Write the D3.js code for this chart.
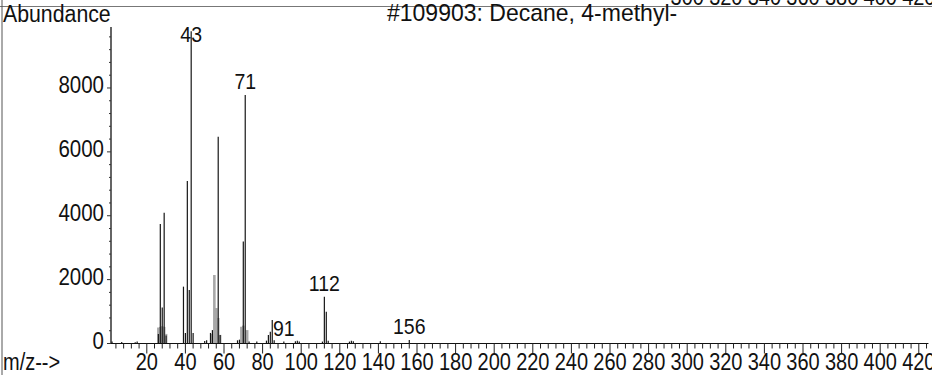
<!DOCTYPE html>
<html><head><meta charset="utf-8">
<script src="https://cdn.jsdelivr.net/npm/d3@7"></script>
<style>
html,body{margin:0;padding:0;background:#fff;}
svg{display:block;font-family:"Liberation Sans",Arial,sans-serif;}
</style></head>
<body>
<script>
// ---- data ----
const title = "#109903: Decane, 4-methyl-";
const yTitle = "Abundance";
const xTitle = "m/z-->";
// main (dark) spectrum lines
const mz        = [2, 7, 14, 15, 26, 27, 28, 29, 30, 39, 40, 41, 42, 43, 44, 50, 51, 53, 54, 57, 58, 67, 68, 70, 71, 73, 77, 82, 83, 84, 85, 86, 91, 97, 98, 99, 111, 112, 113, 114, 125, 126, 127, 141, 156];
const abundance = [60, 50, 40, 60, 300, 3740, 1130, 4090, 250, 1780, 330, 5090, 1675, 9780, 330, 80, 100, 330, 420, 6475, 265, 100, 120, 3190, 7780, 60, 60, 90, 265, 370, 735, 100, 60, 70, 90, 60, 60, 1465, 995, 90, 60, 90, 70, 70, 110];
// lighter (grey) shaded lines
const greyMz    = [26, 27, 28, 29, 30, 54, 55, 56, 57, 58, 69, 70, 72];
const greyVal   = [500, 520, 540, 520, 300, 300, 2145, 1110, 800, 270, 525, 560, 420];
// labelled peaks
const peakLabels = [43, 71, 91, 112, 156];
// axis ticks
const yTicks = [0, 2000, 4000, 6000, 8000];
const xTicks = [20, 40, 60, 80, 100, 120, 140, 160, 180, 200, 220, 240, 260, 280, 300, 320, 340, 360, 380, 400, 420];
const topFragmentTicks = [300, 320, 340, 360, 380, 400, 420];

// ---- layout ----
const W = 932, H = 375, SY = 1.15;
const svg = d3.select("body").append("svg").attr("width", W).attr("height", H);

const x = d3.scaleLinear().domain([0, 425]).range([108.2, 928.45]);
const y = d3.scaleLinear().domain([0, 10000]).range([343.5, 24.1]);
const axisX0 = 111, yAxisTop = 27;

function txt(g, sel) {
  return sel.attr("transform", d => `translate(${g.x(d)},${g.y(d)}) scale(1,${SY})`);
}

// frame remnants
svg.append("line").attr("x1", 0).attr("x2", W).attr("y1", 6.5).attr("y2", 6.5)
  .attr("stroke", "#777").attr("stroke-width", 1.2);
svg.append("line").attr("x1", 2).attr("x2", 2).attr("y1", 0).attr("y2", H)
  .attr("stroke", "#555").attr("stroke-width", 1);

// cut-off axis labels of previous panel at top
txt({x: d => x(d), y: () => 4.5},
  svg.append("g").selectAll("text").data(topFragmentTicks).join("text"))
  .attr("text-anchor", "middle").attr("font-size", 20).attr("fill", "#111").text(d => d);

// grey shaded lines
svg.append("g").selectAll("line").data(greyMz.map((m, i) => ({m, v: greyVal[i]}))).join("line")
  .attr("x1", d => x(d.m)).attr("x2", d => x(d.m))
  .attr("y1", y(0)).attr("y2", d => y(d.v))
  .attr("stroke", "#a8a8a8").attr("stroke-width", 2.6);

// main lines
svg.append("g").selectAll("line").data(mz.map((m, i) => ({m, v: abundance[i]}))).join("line")
  .attr("x1", d => x(d.m)).attr("x2", d => x(d.m))
  .attr("y1", y(0)).attr("y2", d => y(d.v))
  .attr("stroke", "#161616").attr("stroke-width", 1.2);

// y axis
svg.append("line").attr("x1", axisX0).attr("x2", axisX0).attr("y1", yAxisTop).attr("y2", y(0))
  .attr("stroke", "#111").attr("stroke-width", 1.3);
const yMinor = d3.range(0, 10000, 400);
svg.append("g").selectAll("line").data(yMinor).join("line")
  .attr("x1", d => yTicks.includes(d) ? axisX0 - 4 : axisX0 - 2).attr("x2", axisX0)
  .attr("y1", d => y(d)).attr("y2", d => y(d))
  .attr("stroke", "#333").attr("stroke-width", 1);
txt({x: () => 104, y: d => y(d) + 5.5},
  svg.append("g").selectAll("text").data(yTicks).join("text"))
  .attr("text-anchor", "end").attr("font-size", 20.5).attr("fill", "#111").text(d => d);

// x axis
svg.append("line").attr("x1", axisX0).attr("x2", x(425)).attr("y1", y(0)).attr("y2", y(0))
  .attr("stroke", "#111").attr("stroke-width", 1.2);
const xMinor = d3.range(4, 425, 4);
svg.append("g").selectAll("line").data(xMinor).join("line")
  .attr("x1", d => x(d)).attr("x2", d => x(d))
  .attr("y1", y(0)).attr("y2", d => d % 20 === 0 ? y(0) + 10 : y(0) + 5)
  .attr("stroke", "#222").attr("stroke-width", 1);
txt({x: d => x(d), y: () => 370},
  svg.append("g").selectAll("text").data(xTicks).join("text"))
  .attr("text-anchor", "middle").attr("font-size", 20).attr("fill", "#111").text(d => d);

// peak labels
txt({x: d => x(d), y: d => Math.max(y(abundance[mz.indexOf(d)]) - 6, 42)},
  svg.append("g").selectAll("text").data(peakLabels).join("text"))
  .attr("text-anchor", "middle").attr("font-size", 19.5).attr("fill", "#111").text(d => d);

// titles
svg.append("text").attr("transform", `translate(3,22) scale(1,${SY})`)
  .attr("font-size", 21.3).attr("fill", "#111").text(yTitle);
svg.append("text").attr("transform", `translate(387,21) scale(1.08,${SY})`)
  .attr("font-size", 21.3).attr("fill", "#111").text(title);
svg.append("text").attr("transform", `translate(3,370) scale(1,${SY})`)
  .attr("font-size", 20).attr("fill", "#111").text(xTitle);
</script>
</body></html>
